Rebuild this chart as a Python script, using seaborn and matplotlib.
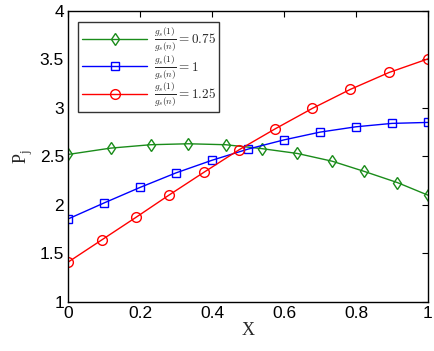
import numpy as np
import pandas as pd
import seaborn as sns
import matplotlib
matplotlib.use("Agg")
import matplotlib.pyplot as plt

# values
x_green = [0.0, 0.118, 0.229, 0.334, 0.438, 0.538, 0.637, 0.734, 0.823, 0.915, 1.0]
y_green = [2.52, 2.585, 2.62, 2.63, 2.62, 2.58, 2.53, 2.45, 2.345, 2.23, 2.10]

x_blue = [0.0, 0.1, 0.2, 0.3, 0.4, 0.5, 0.6, 0.7, 0.8, 0.9, 1.0]
y_blue = [1.855, 2.02, 2.18, 2.33, 2.46, 2.575, 2.67, 2.75, 2.805, 2.84, 2.85]

x_red = [0.0, 0.094, 0.188, 0.28, 0.377, 0.476, 0.576, 0.679, 0.784, 0.892, 1.0]
y_red = [1.41, 1.64, 1.87, 2.10, 2.335, 2.57, 2.785, 2.995, 3.19, 3.365, 3.505]

labels = [r"$\frac{g_s(1)}{g_s(n)} = 0.75$",
          r"$\frac{g_s(1)}{g_s(n)} = 1$",
          r"$\frac{g_s(1)}{g_s(n)} = 1.25$"]

sns.set_style("white")
plt.rcParams["font.family"] = ["Liberation Sans", "DejaVu Sans"]
plt.rcParams["mathtext.fontset"] = "cm"

fig = plt.figure(figsize=(4.34, 3.51), dpi=100)
ax = fig.add_axes([0.157, 0.140, 0.829, 0.829])

series = [
    (x_green, y_green, "#1a8c1a", "d", labels[0]),
    (x_blue, y_blue, "#0000ff", "s", labels[1]),
    (x_red, y_red, "#ff0000", "o", labels[2]),
]
for xs, ys, col, mk, lab in series:
    df = pd.DataFrame({"x": xs, "y": ys})
    sns.lineplot(data=df, x="x", y="y", ax=ax, color=col, marker=mk,
                 markersize=6 if mk != "o" else 7, markerfacecolor="none",
                 markeredgecolor=col, markeredgewidth=1, linewidth=1,
                 label=lab)

ax.set_xlim(0, 1)
ax.set_ylim(1, 4)
ax.set_xticks(np.arange(0, 1.01, 0.2))
ax.set_xticklabels(["0", "0.2", "0.4", "0.6", "0.8", "1"])
ax.set_yticks(np.arange(1, 4.01, 0.5))
ax.set_yticklabels(["1", "1.5", "2", "2.5", "3", "3.5", "4"])
ax.tick_params(direction="in", top=True, right=True, length=4, width=0.8,
               labelsize=12.5, colors="black", pad=3)
for sp in ax.spines.values():
    sp.set_color("black")
    sp.set_linewidth(1)

ax.set_xlabel("X", fontsize=13, family="Liberation Serif", labelpad=1)
ax.set_ylabel(r"P$_\mathregular{j}$", fontsize=13, family="Liberation Serif", labelpad=3)

leg = ax.legend(loc="upper left", bbox_to_anchor=(0.01, 0.985), fontsize=9.5,
                frameon=True, fancybox=False, edgecolor="black",
                handlelength=4.9, labelspacing=0.0, borderpad=0.3,
                handletextpad=0.5)
leg.get_frame().set_linewidth(1)

fig.savefig("out.png", dpi=100)
